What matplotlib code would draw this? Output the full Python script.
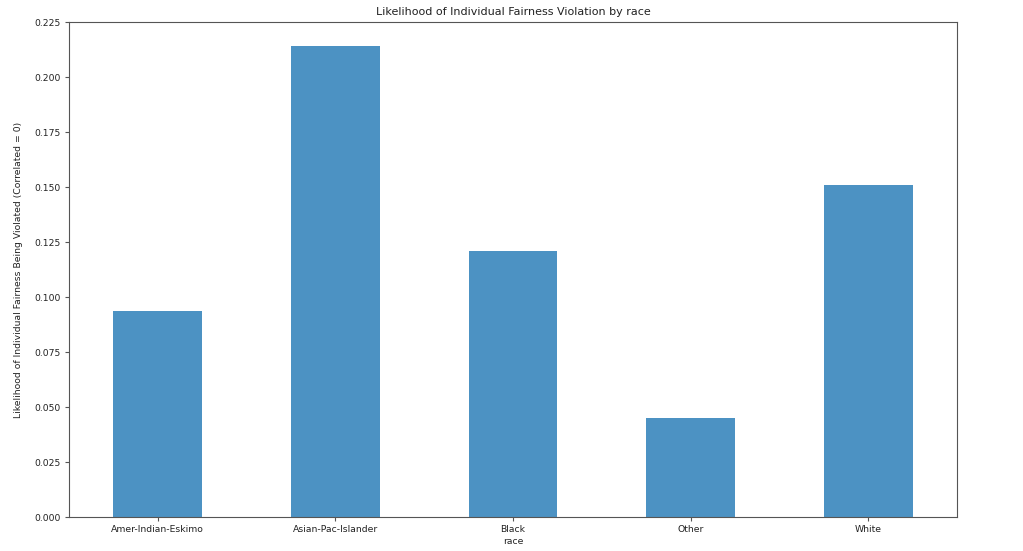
import matplotlib
matplotlib.use("Agg")
from matplotlib import pyplot as plt

races = ['Amer-Indian-Eskimo', 'Asian-Pac-Islander', 'Black', 'Other', 'White']
likelihood = [0.0939, 0.2144, 0.1209, 0.0451, 0.1509]

plt.rcParams['font.size'] = 6.7

fig = plt.figure(figsize=(10.23, 5.51), dpi=100)
ax = fig.add_axes([0.0675, 0.0617, 0.868, 0.898])

x = range(len(races))
ax.bar(x, likelihood, width=0.5, color='#1f77b4', alpha=0.8)
ax.set_xticks(list(x))
ax.set_xticklabels(races, rotation=0)
ax.set_xlim(-0.5, len(races) - 0.5)
ax.set_ylim(0, 0.225)
ax.set_yticks([0.0, 0.025, 0.05, 0.075, 0.1, 0.125, 0.15, 0.175, 0.2, 0.225])
ax.yaxis.set_major_formatter(matplotlib.ticker.FormatStrFormatter('%.3f'))

for s in ax.spines.values():
    s.set_color('#555555')
ax.tick_params(color='#555555', labelcolor='#222222', length=3, pad=3)

ax.set_title('Likelihood of Individual Fairness Violation by race', color='#222222', pad=5)
ax.set_xlabel('race', color='#222222', labelpad=2)
ax.set_ylabel('Likelihood of Individual Fairness Being Violated (Correlated = 0)', color='#222222', labelpad=8)

fig.savefig('out.png', dpi=100)
